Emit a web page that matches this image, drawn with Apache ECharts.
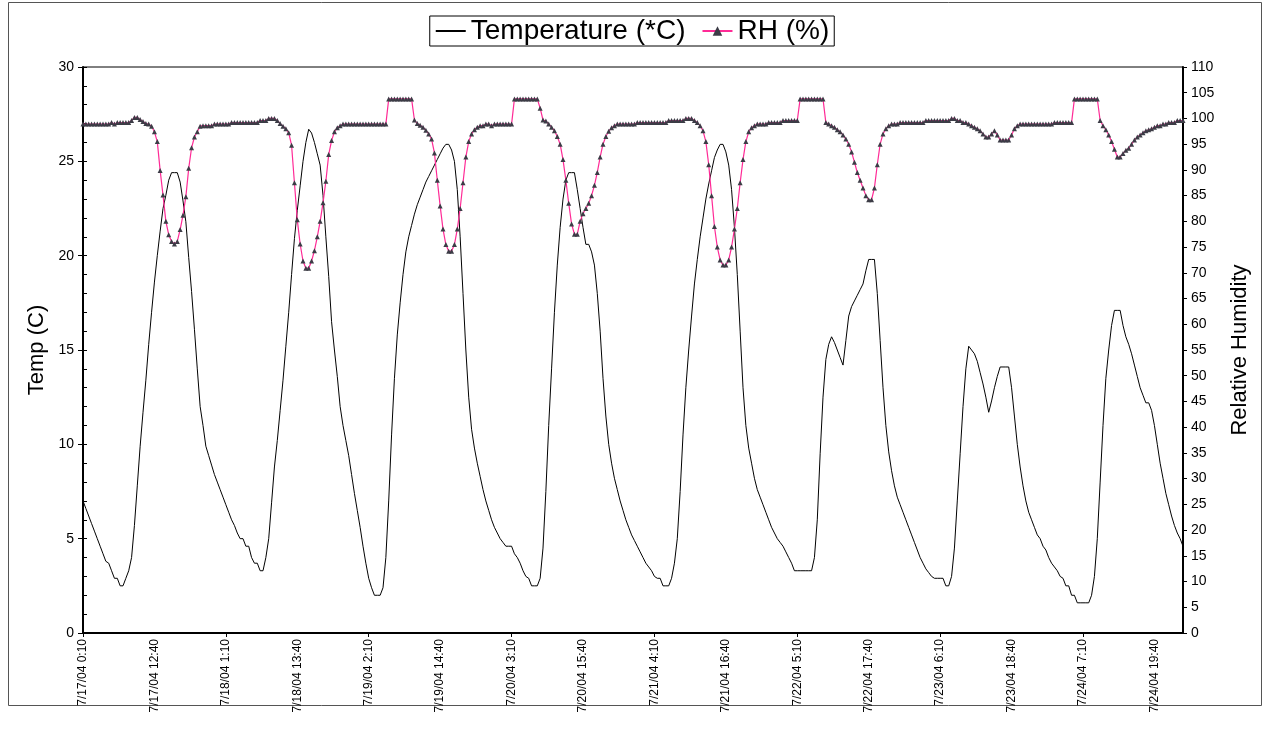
<!DOCTYPE html>
<html>
<head>
<meta charset="utf-8">
<script src="https://cdn.jsdelivr.net/npm/echarts@6/dist/echarts.min.js"></script>
<style>
  html, body { margin: 0; padding: 0; background: #fff; }
  #chart { width: 1264px; height: 729px; }
</style>
</head>
<body>
<div id="chart"></div>
<script>
// logger readings every 30 min, starting 7/17/04 0:10
const startDay = 17;
const startMinute = 10;
const stepMinutes = 30;

// temperature (*C), one row per 25 readings
const temperature = [
  7.0, 6.6, 6.2, 5.8, 5.4, 5.0, 4.6, 4.2, 3.8, 3.7, 3.3, 2.9, 2.9, 2.5, 2.5, 2.9, 3.3, 4.0, 5.7, 7.8, 9.9, 11.7, 13.4, 15.3, 17.0,
  18.6, 20.0, 21.3, 22.5, 23.2, 24.0, 24.4, 24.4, 24.4, 23.9, 22.9, 21.8, 19.9, 18.1, 16.1, 14.0, 12.0, 11.0, 9.9, 9.4, 8.9, 8.4, 8.0, 7.6, 7.2,
  6.8, 6.4, 6.0, 5.7, 5.3, 5.0, 5.0, 4.6, 4.6, 4.0, 3.7, 3.7, 3.3, 3.3, 4.0, 5.0, 6.9, 8.8, 10.2, 11.8, 13.4, 15.2, 17.0, 19.0, 20.9,
  22.4, 23.7, 25.0, 26.0, 26.7, 26.5, 26.0, 25.4, 24.8, 23.2, 21.0, 18.9, 16.5, 15.0, 13.6, 12.0, 11.0, 10.2, 9.4, 8.4, 7.4, 6.5, 5.6, 4.6, 3.7,
  2.9, 2.4, 2.0, 2.0, 2.0, 2.4, 4.0, 7.0, 10.5, 13.5, 15.8, 17.5, 19.0, 20.2, 21.0, 21.6, 22.2, 22.7, 23.1, 23.5, 23.9, 24.2, 24.5, 24.8, 25.1,
  25.4, 25.7, 25.9, 25.9, 25.6, 25.0, 23.5, 21.0, 18.0, 15.0, 12.5, 10.8, 9.8, 9.0, 8.3, 7.6, 7.0, 6.5, 6.0, 5.6, 5.3, 5.0, 4.8, 4.6, 4.6,
  4.6, 4.2, 4.0, 3.7, 3.3, 3.0, 2.9, 2.5, 2.5, 2.5, 2.9, 4.5, 7.5, 11.0, 14.0, 17.0, 19.5, 21.5, 23.0, 24.0, 24.4, 24.4, 24.4, 23.5, 22.5,
  21.5, 20.6, 20.6, 20.2, 19.5, 18.0, 16.0, 13.5, 11.5, 10.0, 9.0, 8.2, 7.6, 7.0, 6.5, 6.0, 5.6, 5.2, 4.9, 4.6, 4.3, 4.0, 3.7, 3.5, 3.3,
  3.0, 2.9, 2.9, 2.5, 2.5, 2.5, 2.9, 3.7, 5.0, 7.5, 10.5, 13.0, 15.0, 16.8, 18.5, 19.8, 21.0, 22.0, 23.0, 23.8, 24.5, 25.2, 25.6, 25.9, 25.9,
  25.5, 24.8, 23.5, 21.5, 19.0, 16.0, 13.0, 11.0, 9.8, 9.0, 8.2, 7.6, 7.2, 6.8, 6.4, 6.0, 5.6, 5.3, 5.0, 4.8, 4.6, 4.3, 4.0, 3.7, 3.3,
  3.3, 3.3, 3.3, 3.3, 3.3, 3.3, 4.0, 6.0, 9.5, 12.5, 14.5, 15.3, 15.7, 15.4, 15.0, 14.6, 14.2, 15.5, 16.8, 17.3, 17.6, 17.9, 18.2, 18.5, 19.2,
  19.8, 19.8, 19.8, 18.0, 15.5, 13.0, 11.0, 9.6, 8.6, 7.8, 7.2, 6.8, 6.4, 6.0, 5.6, 5.2, 4.8, 4.4, 4.0, 3.7, 3.4, 3.2, 3.0, 2.9, 2.9,
  2.9, 2.9, 2.5, 2.5, 3.0, 4.5, 7.0, 9.5, 12.0, 14.0, 15.2, 15.0, 14.8, 14.4, 13.8, 13.2, 12.5, 11.7, 12.3, 13.0, 13.6, 14.1, 14.1, 14.1, 14.1,
  13.0, 11.5, 10.0, 8.8, 7.8, 7.0, 6.4, 6.0, 5.6, 5.2, 5.0, 4.6, 4.4, 4.0, 3.7, 3.5, 3.3, 3.0, 2.9, 2.5, 2.5, 2.0, 2.0, 1.6, 1.6,
  1.6, 1.6, 1.6, 2.0, 3.0, 5.0, 8.0, 11.0, 13.5, 15.0, 16.3, 17.1, 17.1, 17.1, 16.3, 15.7, 15.3, 14.8, 14.2, 13.6, 13.0, 12.6, 12.2, 12.2, 11.8,
  11.0, 10.0, 9.0, 8.2, 7.4, 6.8, 6.2, 5.7, 5.3, 5.0, 4.6
];

// relative humidity (%), same readings
const humidity = [
  98.9, 98.9, 98.9, 98.9, 98.9, 98.9, 98.9, 98.9, 98.9, 98.9, 99.2, 98.9, 99.2, 99.2, 99.2, 99.2, 99.2, 99.6, 100.2, 100.2, 99.8, 99.4, 99.0, 98.9, 98.5,
  97.4, 95.5, 89.9, 85.1, 80.0, 77.4, 76.1, 75.6, 76.1, 78.4, 81.2, 84.8, 90.3, 94.3, 96.4, 97.4, 98.5, 98.6, 98.6, 98.6, 98.6, 98.9, 98.9, 98.9, 98.9,
  98.9, 98.9, 99.2, 99.2, 99.2, 99.2, 99.2, 99.2, 99.2, 99.2, 99.2, 99.2, 99.6, 99.6, 99.6, 100.0, 100.0, 100.0, 99.6, 99.0, 98.5, 98.0, 97.2, 94.8, 87.5,
  80.3, 75.6, 72.3, 70.9, 70.9, 72.3, 74.3, 77.0, 80.0, 83.6, 87.8, 93.0, 95.7, 97.4, 98.2, 98.6, 98.9, 98.9, 98.9, 98.9, 98.9, 98.9, 98.9, 98.9, 98.9,
  98.9, 98.9, 98.9, 98.9, 98.9, 98.9, 98.9, 103.8, 103.8, 103.8, 103.8, 103.8, 103.8, 103.8, 103.8, 103.8, 99.7, 99.0, 98.7, 98.3, 97.7, 97.0, 96.0, 93.3, 88.0,
  83.0, 78.5, 75.5, 74.2, 74.2, 75.5, 78.5, 82.5, 87.5, 92.5, 95.5, 97.0, 97.8, 98.3, 98.6, 98.6, 98.9, 98.9, 98.6, 98.9, 98.9, 98.9, 98.9, 98.9, 98.9,
  98.9, 103.8, 103.8, 103.8, 103.8, 103.8, 103.8, 103.8, 103.8, 103.8, 102.0, 99.7, 99.5, 98.9, 98.3, 97.6, 96.5, 95.0, 92.0, 88.0, 83.5, 79.5, 77.5, 77.5, 80.0,
  81.5, 82.5, 83.5, 85.0, 87.0, 89.5, 92.5, 95.0, 96.5, 97.5, 98.2, 98.6, 98.9, 98.9, 98.9, 98.9, 98.9, 98.9, 98.9, 99.2, 99.2, 99.2, 99.2, 99.2, 99.2,
  99.2, 99.2, 99.2, 99.2, 99.2, 99.6, 99.6, 99.6, 99.6, 99.6, 99.6, 100.0, 100.0, 100.0, 99.6, 99.2, 98.6, 97.6, 95.5, 91.0, 85.0, 79.0, 75.0, 72.5, 71.5,
  71.5, 72.5, 75.0, 78.5, 82.5, 87.5, 92.0, 95.5, 97.4, 98.2, 98.6, 98.9, 98.9, 98.9, 98.9, 99.2, 99.2, 99.2, 99.2, 99.2, 99.6, 99.6, 99.6, 99.6, 99.6,
  99.6, 103.8, 103.8, 103.8, 103.8, 103.8, 103.8, 103.8, 103.8, 103.8, 99.2, 98.9, 98.6, 98.3, 97.8, 97.4, 96.8, 96.0, 95.0, 93.5, 91.5, 89.5, 88.0, 86.5, 85.0,
  84.2, 84.2, 86.5, 91.0, 95.0, 97.0, 98.0, 98.6, 98.9, 98.9, 98.9, 99.2, 99.2, 99.2, 99.2, 99.2, 99.2, 99.2, 99.2, 99.2, 99.6, 99.6, 99.6, 99.6, 99.6,
  99.6, 99.6, 99.6, 99.6, 100.0, 100.0, 99.6, 99.6, 99.2, 99.2, 98.9, 98.6, 98.3, 98.0, 97.6, 97.0, 96.4, 96.4, 97.0, 97.6, 96.8, 95.8, 95.8, 95.8, 95.8,
  96.8, 98.0, 98.6, 98.9, 98.9, 98.9, 98.9, 98.9, 98.9, 98.9, 98.9, 98.9, 98.9, 98.9, 98.9, 99.2, 99.2, 99.2, 99.2, 99.2, 99.2, 99.2, 103.8, 103.8, 103.8,
  103.8, 103.8, 103.8, 103.8, 103.8, 103.8, 99.6, 98.6, 97.8, 96.8, 95.5, 94.0, 92.5, 92.5, 93.2, 93.8, 94.2, 95.0, 95.8, 96.4, 96.8, 97.2, 97.6, 97.8, 98.0,
  98.3, 98.6, 98.6, 98.9, 98.9, 99.2, 99.2, 99.2, 99.6, 99.6, 99.6
];

// category labels "m/d/yy h:mm"
const times = temperature.map((_, i) => {
  const total = startMinute + i * stepMinutes;
  const day = startDay + Math.floor(total / 1440);
  const rem = total % 1440;
  const h = Math.floor(rem / 60);
  const mm = String(rem % 60).padStart(2, "0");
  return "7/" + day + "/04 " + h + ":" + mm;
});

const font = "Liberation Sans, Arial, sans-serif";

const chart = echarts.init(document.getElementById("chart"));
chart.setOption({
  animation: false,
  backgroundColor: "#fff",
  textStyle: { fontFamily: font, color: "#000" },
  graphic: [
    {
      type: "rect",
      shape: { x: 8.5, y: 2.5, width: 1253, height: 703 },
      style: { fill: "none", stroke: "#555", lineWidth: 1 },
      silent: true
    }
  ],
  legend: {
    top: 16,
    left: "center",
    padding: [1, 5, 1, 5],
    itemGap: 16,
    itemWidth: 30,
    itemHeight: 12,
    borderColor: "#000",
    borderWidth: 1,
    textStyle: { fontFamily: font, fontSize: 28, color: "#000" },
    data: [
      { name: "Temperature (*C)", itemStyle: { opacity: 0 } },
      { name: "RH (%)" }
    ]
  },
  grid: {
    left: 83,
    right: 81,
    top: 67,
    bottom: 96,
    show: true,
    borderColor: "#000",
    borderWidth: 1
  },
  xAxis: {
    type: "category",
    data: times,
    boundaryGap: false,
    axisLine: { lineStyle: { color: "#000", width: 2 } },
    axisTick: { interval: 49, length: 4, lineStyle: { color: "#000" } },
    axisLabel: {
      interval: 24,
      rotate: 90,
      fontSize: 12,
      color: "#000",
      margin: 6
    },
    splitLine: { show: false }
  },
  yAxis: [
    {
      type: "value",
      min: 0,
      max: 30,
      interval: 5,
      position: "left",
      name: "Temp (C)",
      nameLocation: "middle",
      nameGap: 33,
      nameTextStyle: { fontSize: 22, fontFamily: font, color: "#000" },
      axisLine: { show: true, lineStyle: { color: "#000", width: 2 } },
      axisTick: { show: true, length: 5, lineStyle: { color: "#000" } },
      axisLabel: { fontSize: 14, color: "#000", margin: 9 },
      splitLine: { show: false }
    },
    {
      type: "value",
      min: 0,
      max: 110,
      interval: 5,
      position: "right",
      name: "Relative Humidity",
      nameLocation: "middle",
      nameRotate: 90,
      nameGap: 46,
      nameTextStyle: { fontSize: 22, fontFamily: font, color: "#000" },
      axisLine: { show: true, lineStyle: { color: "#000", width: 2 } },
      axisTick: { show: true, length: 4, lineStyle: { color: "#000" } },
      axisLabel: { fontSize: 14, color: "#000", margin: 8 },
      splitLine: { show: false }
    },
    {
      // inside minor ticks on the temperature axis
      type: "value",
      min: 0,
      max: 30,
      interval: 1,
      position: "left",
      axisLine: { show: false },
      axisTick: { show: true, inside: true, length: 4, lineStyle: { color: "#000" } },
      axisLabel: { show: false },
      splitLine: { show: false }
    }
  ],
  series: [
    {
      name: "Temperature (*C)",
      type: "line",
      yAxisIndex: 0,
      data: temperature,
      showSymbol: false,
      symbol: "none",
      lineStyle: { color: "#000", width: 1 },
      itemStyle: { color: "#000" }
    },
    {
      name: "RH (%)",
      type: "line",
      yAxisIndex: 1,
      data: humidity,
      symbol: "triangle",
      symbolSize: 5,
      showAllSymbol: true,
      lineStyle: { color: "#ff2a96", width: 1.2 },
      itemStyle: { color: "#3c3c46", borderWidth: 0 }
    }
  ]
});
</script>
</body>
</html>
